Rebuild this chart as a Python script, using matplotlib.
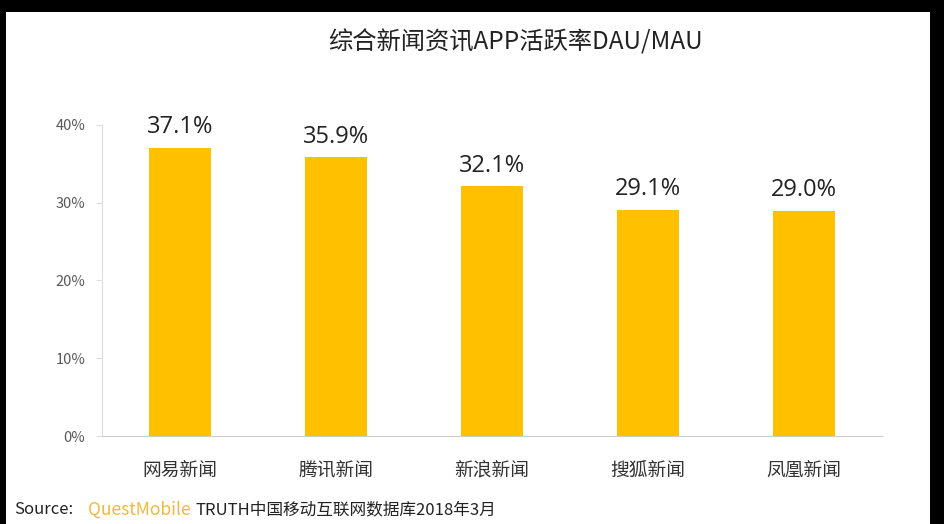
import matplotlib.pyplot as plt
from matplotlib.patches import Rectangle

plt.rcParams['font.family'] = ['Noto Sans CJK SC', 'DejaVu Sans']

# dane
apps = ['网易新闻', '腾讯新闻', '新浪新闻', '搜狐新闻', '凤凰新闻']
rates = [37.1, 35.9, 32.1, 29.1, 29.0]
yticks = [0, 10, 20, 30, 40]

W, H = 944, 524
fig = plt.figure(figsize=(W / 100, H / 100), dpi=100, facecolor='black')

# białe tło z czarnymi ramkami jak na zrzucie
bg = fig.add_axes([0, 0, 1, 1], zorder=-1)
bg.set_xlim(0, W)
bg.set_ylim(H, 0)
bg.axis('off')
bg.add_patch(Rectangle((6, 12), 924, H - 12, facecolor='white', edgecolor='none'))

ax = fig.add_axes([102 / W, (H - 436) / H, 780 / W, (436 - 125) / H])
ax.set_facecolor('none')

x = range(len(apps))
ax.bar(x, rates, width=0.4, color='#FFC000', zorder=2)

for i, v in zip(x, rates):
    ax.annotate(f'{v:.1f}%', (i, v), xytext=(0, 6), textcoords='offset points',
                ha='center', va='bottom', fontsize=17, color='#222222',
                family=['Open Sans', 'DejaVu Sans'])

ax.set_xlim(-0.5, len(apps) - 0.5)
ax.set_ylim(0, 40)
ax.set_yticks(yticks)
ax.set_yticklabels([f'{t}%' for t in yticks], fontsize=10.5, color='#595959')
ax.set_xticks(list(x))
ax.set_xticklabels(apps, fontsize=13.5, color='#333333')
ax.tick_params(axis='x', length=0, pad=17)
ax.tick_params(axis='y', length=4, color='#dddddd', pad=8)

for s in ['top', 'right']:
    ax.spines[s].set_visible(False)
ax.spines['left'].set_color('#dddddd')
ax.spines['bottom'].set_color('#cccccc')

fig.text(515 / W, 1 - 43 / H, '综合新闻资讯APP活跃率DAU/MAU', ha='center', va='center',
         fontsize=17.5, color='#222222')

fig.text(14 / W, 1 - 510 / H, 'Source:', ha='left', va='center', fontsize=12, color='#222222')
fig.text(88 / W, 1 - 510 / H, 'QuestMobile', ha='left', va='center', fontsize=12.5, color='#F2B93B')
fig.text(195 / W, 1 - 510 / H, 'TRUTH中国移动互联网数据库2018年3月', ha='left', va='center',
         fontsize=12, color='#222222')

fig.savefig('out.png', dpi=100, facecolor=fig.get_facecolor())
